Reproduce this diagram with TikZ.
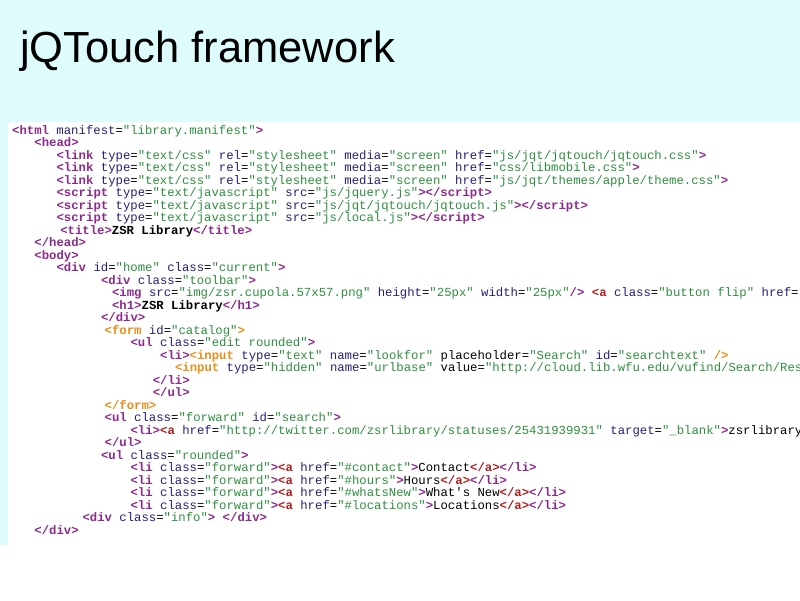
\documentclass[tikz,border=0pt]{standalone}
\usepackage{fontspec}
\setmainfont{Liberation Sans}
\setmonofont{Liberation Mono}
\definecolor{bgc}{HTML}{DEFCFC}
\definecolor{tagc}{HTML}{8B2B8B}
\definecolor{attc}{HTML}{22227A}
\definecolor{valc}{HTML}{2F8F3F}
\definecolor{orc}{HTML}{E8901A}
\definecolor{redc}{HTML}{B02020}
\newcommand{\Tg}[1]{\textcolor{tagc}{\bfseries #1}}
\newcommand{\At}[1]{\textcolor{attc}{#1}}
\newcommand{\Vl}[1]{\textcolor{valc}{#1}}
\newcommand{\Og}[1]{\textcolor{orc}{\bfseries #1}}
\newcommand{\Rd}[1]{\textcolor{redc}{\bfseries #1}}
\newcommand{\Tx}[1]{\textcolor{black}{#1}}
\tikzset{code/.style={anchor=base west,inner sep=0pt,font=\ttfamily\fontsize{12.3}{13}\selectfont}}
\newcommand{\cl}[3]{\node[code] (l#1) at ({12+7.4*#2},{134+12.5*(#1-1)}) {#3};}
\begin{document}
\begin{tikzpicture}[x=1pt,y=-1pt]
\useasboundingbox (0,0) rectangle (800,600);
\fill[bgc] (0,0) rectangle (800,600);
\fill[white] (8,122) rectangle (800,600);
\fill[white] (0,545) rectangle (800,600);
\node[anchor=base west,inner sep=0pt,font=\fontsize{43.5}{48}\selectfont] (title) at (20,62) {jQTouch framework};
\begin{scope}
\clip (8,122) rectangle (800,600);
\cl{1}{0}{\Tg{<html} \At{manifest}=\Vl{"library.manifest"}\Tg{>}}
\cl{2}{3}{\Tg{<head>}}
\cl{3}{6}{\Tg{<link} \At{type}=\Vl{"text/css"} \At{rel}=\Vl{"stylesheet"} \At{media}=\Vl{"screen"} \At{href}=\Vl{"js/jqt/jqtouch/jqtouch.css"}\Tg{>}}
\cl{4}{6}{\Tg{<link} \At{type}=\Vl{"text/css"} \At{rel}=\Vl{"stylesheet"} \At{media}=\Vl{"screen"} \At{href}=\Vl{"css/libmobile.css"}\Tg{>}}
\cl{5}{6}{\Tg{<link} \At{type}=\Vl{"text/css"} \At{rel}=\Vl{"stylesheet"} \At{media}=\Vl{"screen"} \At{href}=\Vl{"js/jqt/themes/apple/theme.css"}\Tg{>}}
\cl{6}{6}{\Tg{<script} \At{type}=\Vl{"text/javascript"} \At{src}=\Vl{"js/jquery.js"}\Tg{></script>}}
\cl{7}{6}{\Tg{<script} \At{type}=\Vl{"text/javascript"} \At{src}=\Vl{"js/jqt/jqtouch/jqtouch.js"}\Tg{></script>}}
\cl{8}{6}{\Tg{<script} \At{type}=\Vl{"text/javascript"} \At{src}=\Vl{"js/local.js"}\Tg{></script>}}
\cl{9}{6.5}{\Tg{<title>}\Tx{\bfseries ZSR Library}\Tg{</title>}}
\cl{10}{3}{\Tg{</head>}}
\cl{11}{3}{\Tg{<body>}}
\cl{12}{6}{\Tg{<div} \At{id}=\Vl{"home"} \At{class}=\Vl{"current"}\Tg{>}}
\cl{13}{12}{\Tg{<div} \At{class}=\Vl{"toolbar"}\Tg{>}}
\cl{14}{13.5}{\Tg{<img} \At{src}=\Vl{"img/zsr.cupola.57x57.png"} \At{height}=\Vl{"25px"} \At{width}=\Vl{"25px"}\Tg{/>} \Rd{<a} \At{class}=\Vl{"button flip"} \At{href}=\Vl{"\#info"}}
\cl{15}{13.5}{\Tg{<h1>}\Tx{\bfseries ZSR Library}\Tg{</h1>}}
\cl{16}{12}{\Tg{</div>}}
\cl{17}{12.5}{\Og{<form} \At{id}=\Vl{"catalog"}\Og{>}}
\cl{18}{16}{\Tg{<ul} \At{class}=\Vl{"edit rounded"}\Tg{>}}
\cl{19}{20}{\Tg{<li>}\Og{<input} \At{type}=\Vl{"text"} \At{name}=\Vl{"lookfor"} \Tx{placeholder}=\Vl{"Search"} \At{id}=\Vl{"searchtext"} \Og{/>}}
\cl{20}{22}{\Og{<input} \At{type}=\Vl{"hidden"} \At{name}=\Vl{"urlbase"} \Tx{value}=\Vl{"http://cloud.lib.wfu.edu/vufind/Search/Results"}}
\cl{21}{19}{\Tg{</li>}}
\cl{22}{19}{\Tg{</ul>}}
\cl{23}{12.5}{\Og{</form>}}
\cl{24}{12.5}{\Tg{<ul} \At{class}=\Vl{"forward"} \At{id}=\Vl{"search"}\Tg{>}}
\cl{25}{16}{\Tg{<li>}\Rd{<a} \At{href}=\Vl{"http://twitter.com/zsrlibrary/statuses/25431939931"} \At{target}=\Vl{"\_blank"}\Tg{>}\Tx{zsrlibrary}}
\cl{26}{12.5}{\Tg{</ul>}}
\cl{27}{12}{\Tg{<ul} \At{class}=\Vl{"rounded"}\Tg{>}}
\cl{28}{16}{\Tg{<li} \At{class}=\Vl{"forward"}\Tg{>}\Rd{<a} \At{href}=\Vl{"\#contact"}\Tg{>}\Tx{Contact}\Rd{</a>}\Tg{</li>}}
\cl{29}{16}{\Tg{<li} \At{class}=\Vl{"forward"}\Tg{>}\Rd{<a} \At{href}=\Vl{"\#hours"}\Tg{>}\Tx{Hours}\Rd{</a>}\Tg{</li>}}
\cl{30}{16}{\Tg{<li} \At{class}=\Vl{"forward"}\Tg{>}\Rd{<a} \At{href}=\Vl{"\#whatsNew"}\Tg{>}\Tx{What's New}\Rd{</a>}\Tg{</li>}}
\cl{31}{16}{\Tg{<li} \At{class}=\Vl{"forward"}\Tg{>}\Rd{<a} \At{href}=\Vl{"\#locations"}\Tg{>}\Tx{Locations}\Rd{</a>}\Tg{</li>}}
\cl{32}{9.5}{\Tg{<div} \At{class}=\Vl{"info"}\Tg{>} \Tg{</div>}}
\cl{33}{3}{\Tg{</div>}}
\end{scope}
\end{tikzpicture}
\end{document}
